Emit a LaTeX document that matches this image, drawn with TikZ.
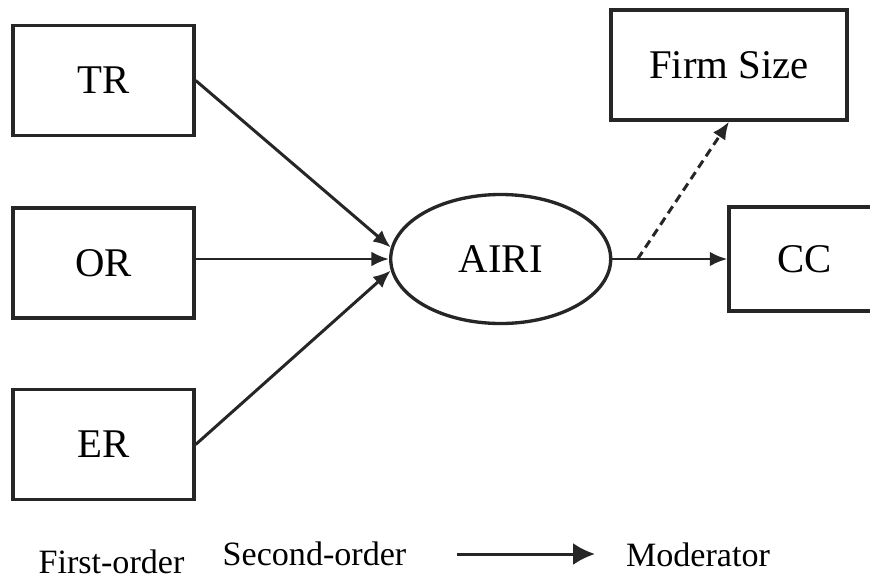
\documentclass[tikz,border=0pt]{standalone}
\usepackage{fontspec}
\setmainfont{Liberation Serif}
\usetikzlibrary{shapes.geometric,arrows.meta}
\begin{document}
\begin{tikzpicture}[
    box/.style={draw=black!85,line width=0.95pt,rectangle,inner sep=0pt,minimum width=1.81cm,minimum height=1.10cm,font=\fontsize{11.6}{13}\selectfont},
    oval/.style={draw=black!85,line width=0.95pt,ellipse,inner sep=0pt,minimum width=2.20cm,minimum height=1.29cm,font=\fontsize{11.6}{13}\selectfont},
    path/.style={draw=black!85,line width=0.85pt,-{Latex[length=5pt,width=4.2pt]}},
    legend/.style={font=\fontsize{9.7}{11}\selectfont,anchor=base,inner sep=0pt}]
    \useasboundingbox (0,0) rectangle (8.7,5.77);
    % first-order constructs
    \node[box] (TR) at (1.035,4.965) {TR};
    \node[box] (OR) at (1.035,3.14) {OR};
    \node[box] (ER) at (1.035,1.325) {ER};
    % second-order construct
    \node[oval] (AIRI) at (5.007,3.18) {AIRI};
    % outcome and moderator
    \node[box,minimum width=1.51cm,minimum height=1.04cm] (CC) at (8.045,3.18) {CC};
    \node[box,minimum width=2.36cm] (FS) at (7.29,5.12) {Firm Size};
    % paths
    \draw[path] (TR.east) -- (AIRI.174);
    \draw[path] (OR.east |- AIRI.west) -- (AIRI.west);
    \draw[path] (ER.east) -- (AIRI.186);
    \draw[path] (AIRI.east) -- coordinate[pos=0.22] (mod) (CC.west);
    \draw[path,dash pattern=on 2.4pt off 1.5pt] (mod) -- (FS.south);
    % legend
    \node[legend] (first) at (1.115,0.04) {First-order};
    \node[legend] (second) at (3.145,0.12) {Second-order};
    \coordinate (lgA) at (4.57,0.23);
    \coordinate (lgB) at (5.95,0.23);
    \draw[draw=black!85,line width=0.85pt,-{Latex[length=6.2pt,width=6.2pt]}] (lgA) -- (lgB);
    \node[legend] (moder) at (6.98,0.11) {Moderator};
\end{tikzpicture}
\end{document}
